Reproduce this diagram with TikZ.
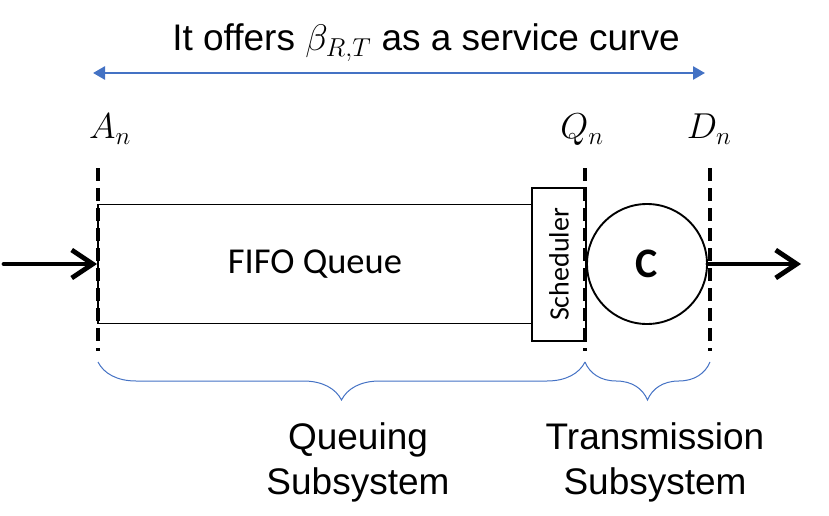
\RequirePackage{fix-cm}
\documentclass[tikz,border=0pt]{standalone}
\usepackage{fontspec}
\setmainfont{Liberation Sans}
\newfontfamily\calibri{Carlito}
\usetikzlibrary{arrows.meta,decorations.pathreplacing}
\definecolor{ablue}{RGB}{68,114,196}
\begin{document}
\begin{tikzpicture}[x=1pt,y=-1pt,
  boxst/.style={draw, line width=1.9pt, inner sep=0pt},
  cutline/.style={line width=3.4pt, dash pattern=on 13pt off 7pt},
  flowarrow/.style={line width=4.8pt, line cap=round, line join=round, -{Straight Barb[length=21pt,width=28pt]}},
  spanarrow/.style={ablue, line width=2.6pt, {Triangle[length=12pt,width=13pt]}-{Triangle[length=12pt,width=13pt]}},
  bracest/.style={ablue, line width=1pt, decorate, decoration={brace, mirror, amplitude=38pt}},
  bigtext/.style={font=\fontsize{37}{45}\selectfont},
  mathlab/.style={anchor=base, font=\fontsize{36}{40}\selectfont}]
\useasboundingbox (0,0) rectangle (829,516);
% title and span arrow
\node[bigtext, anchor=base] (title) at (426,51) {It offers $\beta_{R,T}$ as a service curve};
\coordinate (sl) at (93,73);
\coordinate (sr) at (705,73);
\draw[spanarrow] (sl) -- (sr);
% point labels
\node[mathlab] (An) at (110,139) {$A_n$};
\node[mathlab] (Qn) at (582,139) {$Q_n$};
\node[mathlab] (Dn) at (709,139) {$D_n$};
% boxes
\node[boxst, minimum width=434pt, minimum height=119pt, font=\calibri\fontsize{36.5}{40}\selectfont] (queue) at (315,264) {FIFO Queue};
\node[boxst, rotate=90, minimum width=153pt, minimum height=54pt, font=\calibri\fontsize{28}{30}\selectfont] (sched) at (559,264.5) {Scheduler};
\node[boxst, circle, minimum size=120pt, font=\calibri\bfseries\fontsize{42}{46}\selectfont] (server) at (647,264) {C};
% dashed cut lines
\coordinate (at) at (98,168);  \coordinate (ab) at (98,351);
\coordinate (qt) at (585,168); \coordinate (qb) at (585,351);
\coordinate (dt) at (710,168); \coordinate (db) at (710,351);
\draw[cutline] (at) -- (ab);
\draw[cutline] (qt) -- (qb);
\draw[cutline] (dt) -- (db);
% flow arrows
\coordinate (inp) at (4,264);
\coordinate (outp) at (801,264);
\draw[flowarrow] (inp) -- (queue.west);
\draw[flowarrow] (server.east) -- (outp);
% braces
\coordinate (bl) at (98,362);
\coordinate (bm) at (585,362);
\coordinate (br) at (710,362);
\draw[bracest] (bl) -- (bm);
\draw[bracest] (bm) -- (br);
% bottom labels
\node[bigtext, align=center, anchor=base] (qlab) at (358,494) {Queuing\\Subsystem};
\node[bigtext, align=center, anchor=base] (tlab) at (655,494) {Transmission\\Subsystem};
\end{tikzpicture}
\end{document}
